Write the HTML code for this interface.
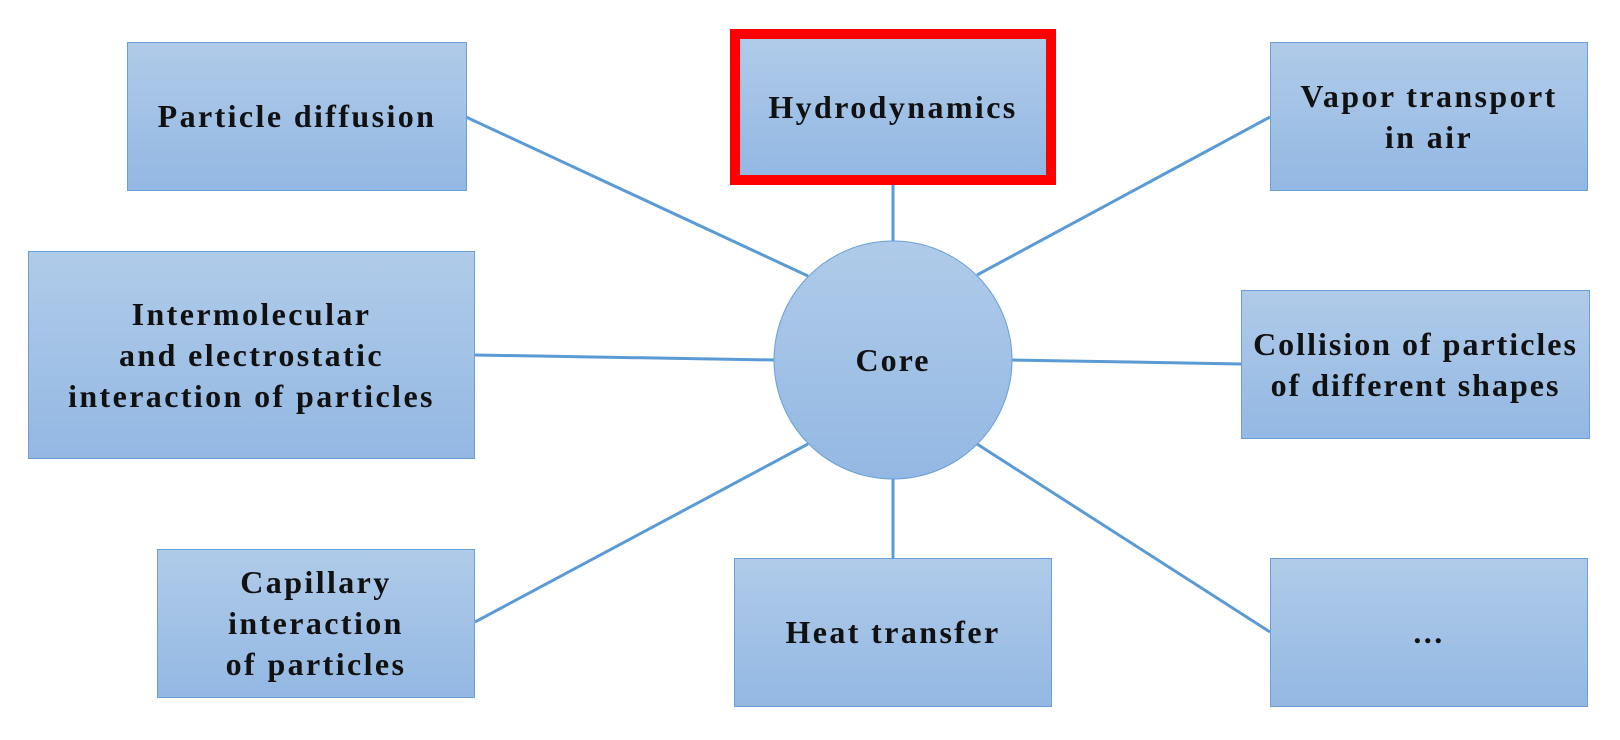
<!DOCTYPE html>
<html><head><meta charset="utf-8"><style>
html,body{margin:0;padding:0;background:#fff;}
body{width:1620px;height:740px;position:relative;overflow:hidden;font-family:"Liberation Serif",serif;}
.b{position:absolute;box-sizing:border-box;border:1px solid #6a9fd8;background:linear-gradient(#b0cbe9,#93b8e3);display:flex;align-items:center;justify-content:center;text-align:center;font-weight:bold;font-size:32px;line-height:41px;color:#111;letter-spacing:2.4px;white-space:nowrap;}
svg{position:absolute;left:0;top:0;}
</style></head><body>
<svg width="1620" height="740">
<g stroke="#5b9bd5" stroke-width="3">
<line x1="466" y1="117" x2="808" y2="276"/>
<line x1="893" y1="181" x2="893" y2="241"/>
<line x1="1270" y1="117" x2="977" y2="275"/>
<line x1="475" y1="355" x2="774" y2="360"/>
<line x1="1012" y1="360" x2="1241" y2="364"/>
<line x1="475" y1="622" x2="808" y2="444"/>
<line x1="893" y1="478" x2="893" y2="558"/>
<line x1="977" y1="444" x2="1270" y2="632"/>
</g>
<defs><linearGradient id="g" x1="0" y1="0" x2="0" y2="1"><stop offset="0" stop-color="#b0cbe9"/><stop offset="1" stop-color="#93b8e3"/></linearGradient></defs>
<circle cx="893" cy="360" r="119" fill="url(#g)" stroke="#6a9fd8" stroke-width="1"/>
<text x="893" y="371" text-anchor="middle" font-family="Liberation Serif,serif" font-weight="bold" font-size="32" letter-spacing="2" fill="#111">Core</text>
</svg>
<div class="b" style="left:127px;top:42px;width:340px;height:149px;">Particle diffusion</div>
<div class="b" style="left:730px;top:29px;width:326px;height:156px;border:10px solid #ff0000;">Hydrodynamics</div>
<div class="b" style="left:1270px;top:42px;width:318px;height:149px;">Vapor transport<br>in air</div>
<div class="b" style="left:28px;top:251px;width:447px;height:208px;">Intermolecular<br>and electrostatic<br>interaction of particles</div>
<div class="b" style="left:1241px;top:290px;width:349px;height:149px;letter-spacing:2px;">Collision of particles<br>of different shapes</div>
<div class="b" style="left:157px;top:549px;width:318px;height:149px;">Capillary<br>interaction<br>of particles</div>
<div class="b" style="left:734px;top:558px;width:318px;height:149px;">Heat transfer</div>
<div class="b" style="left:1270px;top:558px;width:318px;height:149px;">...</div>
</body></html>
